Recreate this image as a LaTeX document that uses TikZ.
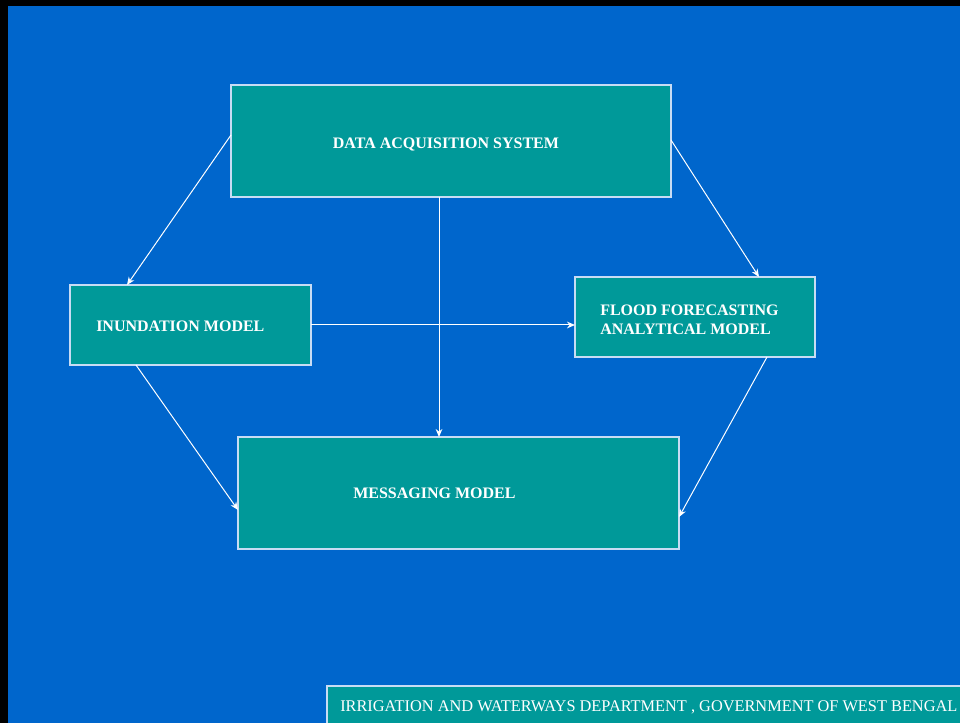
\documentclass[tikz,border=0pt]{standalone}
\usepackage{fontspec}
\setmainfont{Liberation Serif}
\usetikzlibrary{arrows.meta}
\definecolor{bgblue}{HTML}{0066CC}
\definecolor{teal}{HTML}{009999}
\definecolor{edgecol}{HTML}{C8DCF4}
\begin{document}
\begin{tikzpicture}[x=0.75pt,y=-0.75pt,
  box/.style={draw=edgecol,line width=1pt,fill=teal},
  lbl/.style={text=white,font=\fontsize{12}{14.25}\selectfont\bfseries,align=left,anchor=west,inner sep=0pt},
  conn/.style={draw=white,line width=0.75pt,-{Stealth[length=6pt,width=5pt]}}]
\fill[black] (0,0) rectangle (960,723);
\fill[bgblue] (8,6) rectangle (960,723);
\useasboundingbox (0,0) rectangle (960,723);
% boxes
\draw[box] (231,85) rectangle (671,197);
\node[lbl,anchor=center] (dastxt) at (446,145) {DATA ACQUISITION SYSTEM};
\draw[box] (70,285) rectangle (311,365);
\node[lbl] (inutxt) at (96,326) {INUNDATION MODEL};
\draw[box] (575,277) rectangle (815,357);
\node[lbl] (fftxt) at (600,320) {FLOOD FORECASTING\\ANALYTICAL MODEL};
\draw[box] (238,437) rectangle (679,549);
\node[lbl] (msgtxt) at (353,493) {MESSAGING MODEL};
% footer
\draw[box] (327,686) rectangle (962,725);
\node[text=white,font=\fontsize{12.25}{14}\selectfont,anchor=west,inner sep=0pt] (foot) at (340,707) {IRRIGATION AND WATERWAYS DEPARTMENT , GOVERNMENT OF WEST BENGAL};
% anchor coordinates
\coordinate (dasL) at (231,135);
\coordinate (inuT) at (127,285);
\coordinate (dasR) at (671,140);
\coordinate (ffT) at (759,277);
\coordinate (dasB) at (439,197);
\coordinate (msgT) at (439,437);
\coordinate (inuR) at (311,325);
\coordinate (ffL) at (575,325);
\coordinate (inuB) at (136,365);
\coordinate (msgL) at (238,510);
\coordinate (ffB) at (767,357);
\coordinate (msgR) at (679,517);
\draw[conn] (dasL) -- (inuT);
\draw[conn] (dasR) -- (ffT);
\draw[conn] (dasB) -- (msgT);
\draw[conn] (inuR) -- (ffL);
\draw[conn] (inuB) -- (msgL);
\draw[conn] (ffB) -- (msgR);
\end{tikzpicture}
\end{document}
